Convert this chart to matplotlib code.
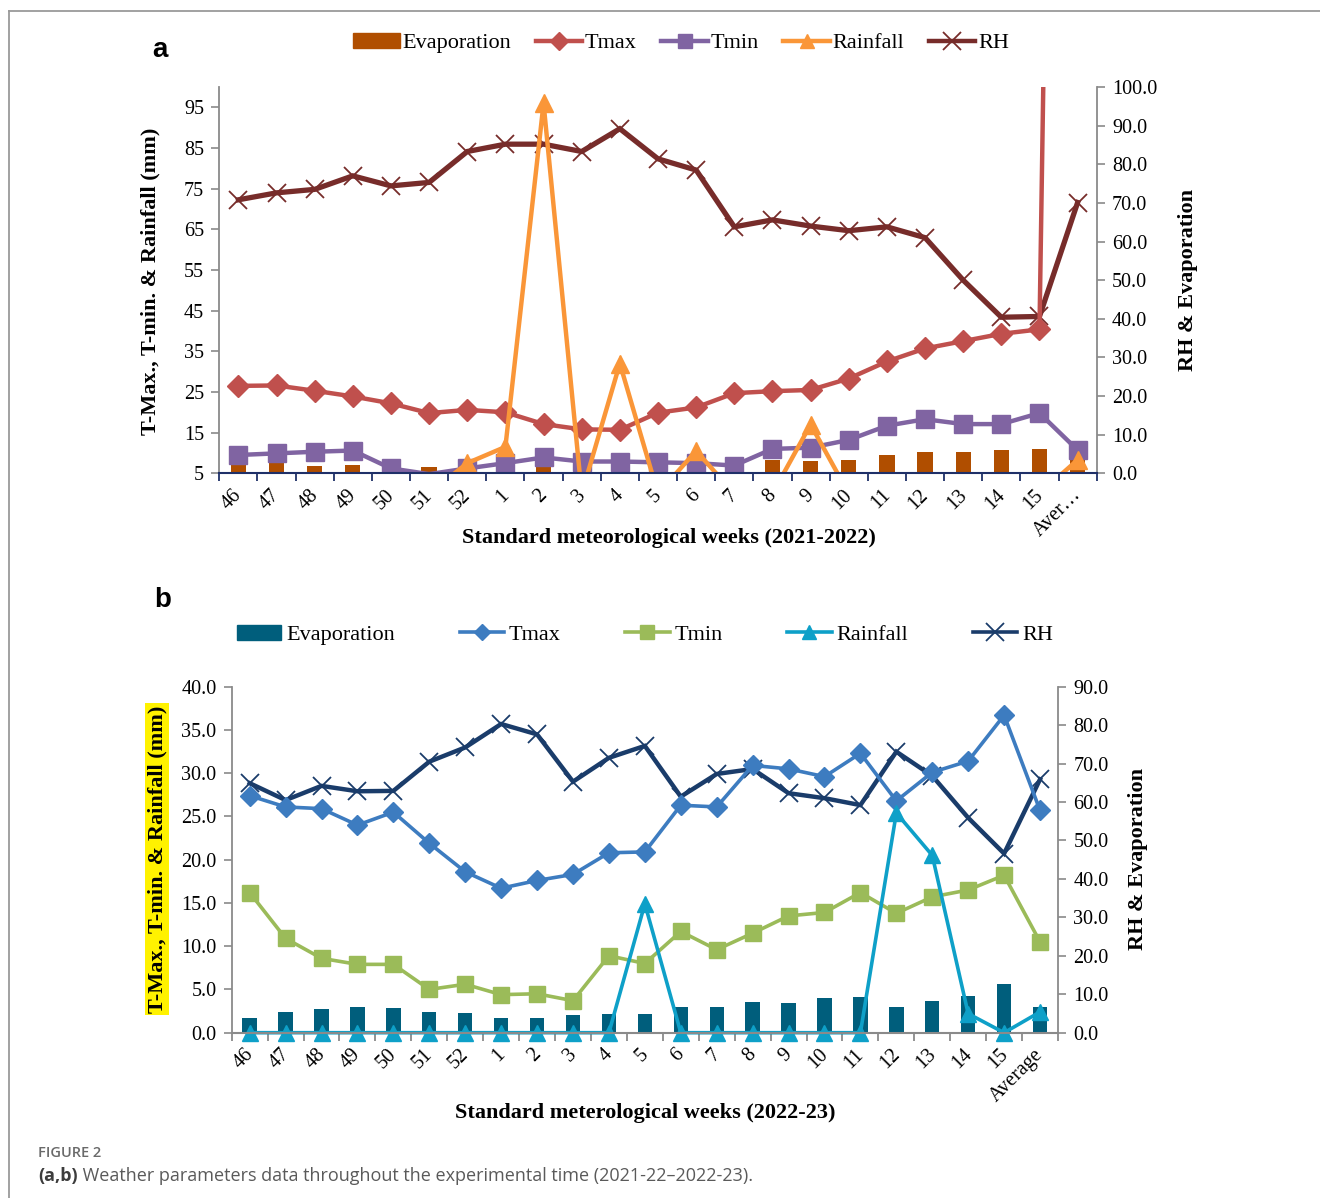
import matplotlib
matplotlib.use('Agg')
import matplotlib.pyplot as plt
import numpy as np
from matplotlib.lines import Line2D
from matplotlib.patches import Patch
from matplotlib.transforms import ScaledTranslation
from matplotlib.ticker import FixedLocator, FormatStrFormatter

# ---------------- data ----------------
weeks_a = ['46', '47', '48', '49', '50', '51', '52', '1', '2', '3', '4', '5', '6', '7',
           '8', '9', '10', '11', '12', '13', '14', '15', 'Aver\u2026']
evap_a = [2.2, 2.6, 2.0, 2.2, 1.8, 1.6, 1.7, 1.8, 1.6, 1.7, 1.8, 1.9, 2.0, 1.9,
          3.5, 3.3, 3.5, 4.7, 5.6, 5.4, 6.0, 6.3, 3.5]
tmax_a = [26.5, 26.6, 25.3, 23.9, 22.2, 19.8, 20.6, 20.0, 17.1, 15.8, 15.7, 19.9, 21.2, 24.7,
          25.2, 25.5, 28.3, 32.5, 35.7, 37.5, 39.3, 40.4, 640.0]
tmin_a = [9.5, 9.9, 10.3, 10.6, 6.2, 4.8, 6.2, 7.5, 8.9, 7.9, 7.9, 7.7, 7.5, 6.9,
          11.0, 11.3, 13.2, 16.7, 18.3, 17.1, 17.1, 19.8, 10.7]
rain_a = [0, 0, 0, 0, 0, 0, 7.5, 11.5, 96.0, 0, 32.0, 0, 10.5, 0,
          0, 17.0, 0, 0, 0, 0, 0, 0, 8.3]
rh_a = [70.8, 72.6, 73.5, 77.0, 74.4, 75.3, 83.3, 85.2, 85.2, 83.3, 89.2, 81.4, 78.5, 63.8,
        65.6, 64.0, 62.8, 63.8, 61.0, 50.0, 40.4, 40.6, 70.1]

weeks_b = ['46', '47', '48', '49', '50', '51', '52', '1', '2', '3', '4', '5', '6', '7',
           '8', '9', '10', '11', '12', '13', '14', '15', 'Average']
evap_b = [3.7, 5.3, 6.1, 6.6, 6.3, 5.5, 5.0, 3.7, 3.7, 4.6, 4.8, 4.9, 6.8, 6.8,
          7.9, 7.8, 8.9, 9.2, 6.6, 8.3, 9.5, 12.7, 6.6]
tmax_b = [27.4, 26.1, 25.9, 24.0, 25.5, 21.9, 18.6, 16.7, 17.6, 18.3, 20.8, 20.9, 26.3, 26.1,
          30.9, 30.5, 29.6, 32.3, 26.8, 30.1, 31.4, 36.7, 25.7]
tmin_b = [16.2, 10.9, 8.6, 7.9, 7.9, 5.0, 5.6, 4.4, 4.5, 3.7, 8.9, 8.0, 11.7, 9.6,
          11.5, 13.5, 13.9, 16.2, 13.8, 15.7, 16.5, 18.2, 10.5]
rain_b = [0, 0, 0, 0, 0, 0, 0, 0, 0, 0, 0, 14.9, 0, 0,
          0, 0, 0, 0, 25.4, 20.5, 2.2, 0, 2.4]
rh_b = [64.9, 60.5, 64.2, 62.8, 62.9, 70.5, 74.2, 80.3, 77.6, 65.3, 71.5, 74.6, 61.4, 67.3,
        68.6, 62.3, 61.0, 59.2, 73.1, 66.8, 55.9, 46.6, 65.9]

series_names = ['Evaporation', 'Tmax', 'Tmin', 'Rainfall', 'RH']

# ---------------- style ----------------
W, H = 1320, 1198
SERIF = 'Liberation Serif'
plt.rcParams['font.family'] = [SERIF, 'DejaVu Serif']
fig = plt.figure(figsize=(W / 100, H / 100), dpi=100)


def fx(px):
    return px / W


def fy(py):
    return 1 - py / H


def draw_panel(rect, labels, evap, tmax, tmin, rain, rh, cols, ylim_l, ticks_l, fmt_l,
               ylim_r, ticks_r, bottom_col, axis_col, lw, ms, clip_rain, xoff_px):
    ax = fig.add_axes(rect)
    ax2 = ax.twinx()
    ax.set_zorder(2)
    ax2.set_zorder(1)
    ax.patch.set_visible(False)
    x = np.arange(len(labels))

    ax2.bar(x, evap, width=0.4, color=cols[0], zorder=1)
    ax2.plot(x, rh, color=cols[4], lw=lw + 0.6, marker='x', ms=ms['x'], mew=1.3,
             zorder=2, solid_joinstyle='miter')

    lo = ylim_l[0]
    for vals, col, mk, clip in [(tmax, cols[1], 'D', True),
                                (tmin, cols[2], 's', True),
                                (rain, cols[3], '^', clip_rain)]:
        v = np.asarray(vals, dtype=float)
        ax.plot(x, v, color=col, lw=lw, clip_on=clip, solid_joinstyle='miter')
        vm = np.where(v >= lo, v, np.nan)
        ax.plot(x, vm, ls='none', marker=mk, ms=ms[mk], color=col, mec=col,
                clip_on=clip)

    ax.set_xlim(-0.5, len(labels) - 0.5)
    ax.set_ylim(*ylim_l)
    ax2.set_ylim(*ylim_r)

    ax.yaxis.set_major_locator(FixedLocator(ticks_l))
    ax.yaxis.set_major_formatter(FormatStrFormatter(fmt_l))
    ax2.yaxis.set_major_locator(FixedLocator(ticks_r))
    ax2.yaxis.set_major_formatter(FormatStrFormatter('%.1f'))

    ax.set_xticks(x)
    ax.set_xticklabels(labels, rotation=45, ha='right', va='top', rotation_mode='anchor',
                       fontsize=14.5)
    ax.set_xticks(np.arange(-0.5, len(labels)), minor=True)
    ax.tick_params(axis='x', which='major', length=0, pad=9)
    ax.tick_params(axis='x', which='minor', length=6, width=1.3, color=bottom_col,
                   direction='out')
    off = ScaledTranslation(xoff_px / 100, 0, fig.dpi_scale_trans)
    for t in ax.get_xticklabels():
        t.set_transform(t.get_transform() + off)

    ax.tick_params(axis='y', length=6, width=1.2, color=axis_col, pad=5,
                   labelsize=14.5)
    ax2.tick_params(axis='y', length=6, width=1.2, color=axis_col, pad=5,
                    labelsize=14.5)

    for a in (ax, ax2):
        a.spines['top'].set_visible(False)
    ax.spines['right'].set_visible(False)
    ax2.spines['left'].set_visible(False)
    ax2.spines['bottom'].set_visible(False)
    ax.spines['left'].set_color(axis_col)
    ax.spines['left'].set_linewidth(1.3)
    ax2.spines['right'].set_color(axis_col)
    ax2.spines['right'].set_linewidth(1.3)
    ax.spines['bottom'].set_color(bottom_col)
    ax.spines['bottom'].set_linewidth(1.5)
    ax.spines['bottom'].set_zorder(5)

    handles = [Patch(color=cols[0]),
               Line2D([], [], color=cols[1], lw=lw, marker='D', ms=ms['D'] * 0.8),
               Line2D([], [], color=cols[2], lw=lw, marker='s', ms=ms['s'] * 0.8),
               Line2D([], [], color=cols[3], lw=lw, marker='^', ms=ms['^'] * 0.8),
               Line2D([], [], color=cols[4], lw=lw, marker='x', ms=ms['x'], mew=1.3)]
    return ax, ax2, handles


# ---------------- panel a ----------------
cols_a = ['#B04E00', '#C0504D', '#8064A2', '#FA9638', '#772C2A']
rect_a = [fx(219.3), fy(473.3), fx(1096.7) - fx(219.3), fy(87) - fy(473.3)]
ax_a, ax2_a, h_a = draw_panel(rect_a, weeks_a, evap_a, tmax_a, tmin_a, rain_a, rh_a, cols_a,
                              (5, 100), np.arange(5, 96, 10), '%d', (0, 100),
                              np.arange(0, 101, 10), '#1F3068', '#8A8A8A', 3.2,
                              {'D': 11, 's': 13, '^': 13, 'x': 13}, True, -6)

fig.legend(h_a, series_names, loc='center', bbox_to_anchor=(fx(681), fy(43)), ncol=5,
           frameon=False, prop={'family': SERIF, 'size': 16}, handlelength=2.1,
           handletextpad=0.12, columnspacing=1.1, borderaxespad=0)

# ---------------- panel b ----------------
cols_b = ['#005E7C', '#3D7CC0', '#9BBB59', '#0EA0C8', '#1A3C6A']
rect_b = [fx(231.7), fy(1032.7), fx(1058) - fx(231.7), fy(686.7) - fy(1032.7)]
ax_b, ax2_b, h_b = draw_panel(rect_b, weeks_b, evap_b, tmax_b, tmin_b, rain_b, rh_b, cols_b,
                              (0, 40), np.arange(0, 41, 5), '%.1f', (0, 90),
                              np.arange(0, 91, 10), '#8A8A8A', '#8A8A8A', 2.6,
                              {'D': 10, 's': 12, '^': 12, 'x': 13}, False, -6)

fig.legend(h_b, series_names, loc='center', bbox_to_anchor=(fx(645), fy(635)), ncol=5,
           frameon=False, prop={'family': SERIF, 'size': 16}, handlelength=2.0,
           handletextpad=0.22, columnspacing=2.9, borderaxespad=0)

# ---------------- axis titles ----------------
bold = dict(family=SERIF, weight='bold', size=16)
fig.text(fx(150), fy(281), 'T-Max., T-min. & Rainfall (mm)', rotation=90,
         ha='center', va='center', **bold)
fig.text(fx(1188), fy(280), 'RH & Evaporation', rotation=90, ha='center', va='center', **bold)
fig.text(fx(669), fy(538), 'Standard meteorological weeks (2021-2022)', ha='center',
         va='center', **bold)

fig.text(fx(157), fy(859), 'T-Max., T-min. & Rainfall (mm)', rotation=90,
         ha='center', va='center',
         bbox=dict(facecolor='#FFF200', edgecolor='none', pad=1.5), **bold)
fig.text(fx(1138), fy(859), 'RH & Evaporation', rotation=90, ha='center', va='center', **bold)
fig.text(fx(645), fy(1113), 'Standard meterological weeks (2022-23)', ha='center',
         va='center', **bold)

# panel letters
fig.text(fx(160), fy(50), 'a', ha='center', va='center', family='Liberation Sans',
         weight='bold', size=20)
fig.text(fx(163), fy(600), 'b', ha='center', va='center', family='Liberation Sans',
         weight='bold', size=20)

# ---------------- caption ----------------
fig.text(fx(38), fy(1153), 'FIGURE 2', ha='left', va='center', family='Open Sans',
         weight='semibold', size=10.5, color='#6A6A6A')
t1 = fig.text(fx(38), fy(1176), '(a,b)', ha='left', va='center', family='Open Sans',
              weight='bold', size=13, color='#3C3C3C')
fig.add_artist(matplotlib.text.Annotation(
    ' Weather parameters data throughout the experimental time (2021-22\u20132022-23).',
    xy=(1, 0), xycoords=t1, ha='left', va='bottom', family='Open Sans', size=13,
    color='#5A5A5A'))

# ---------------- frame ----------------
fig.add_artist(Line2D([fx(8.5), 1], [fy(10.5), fy(10.5)], color='#9A9A9A', lw=1.3))
fig.add_artist(Line2D([fx(8.5), fx(8.5)], [fy(10.5), 0], color='#9A9A9A', lw=1.3))

fig.savefig('out.png', dpi=100)
